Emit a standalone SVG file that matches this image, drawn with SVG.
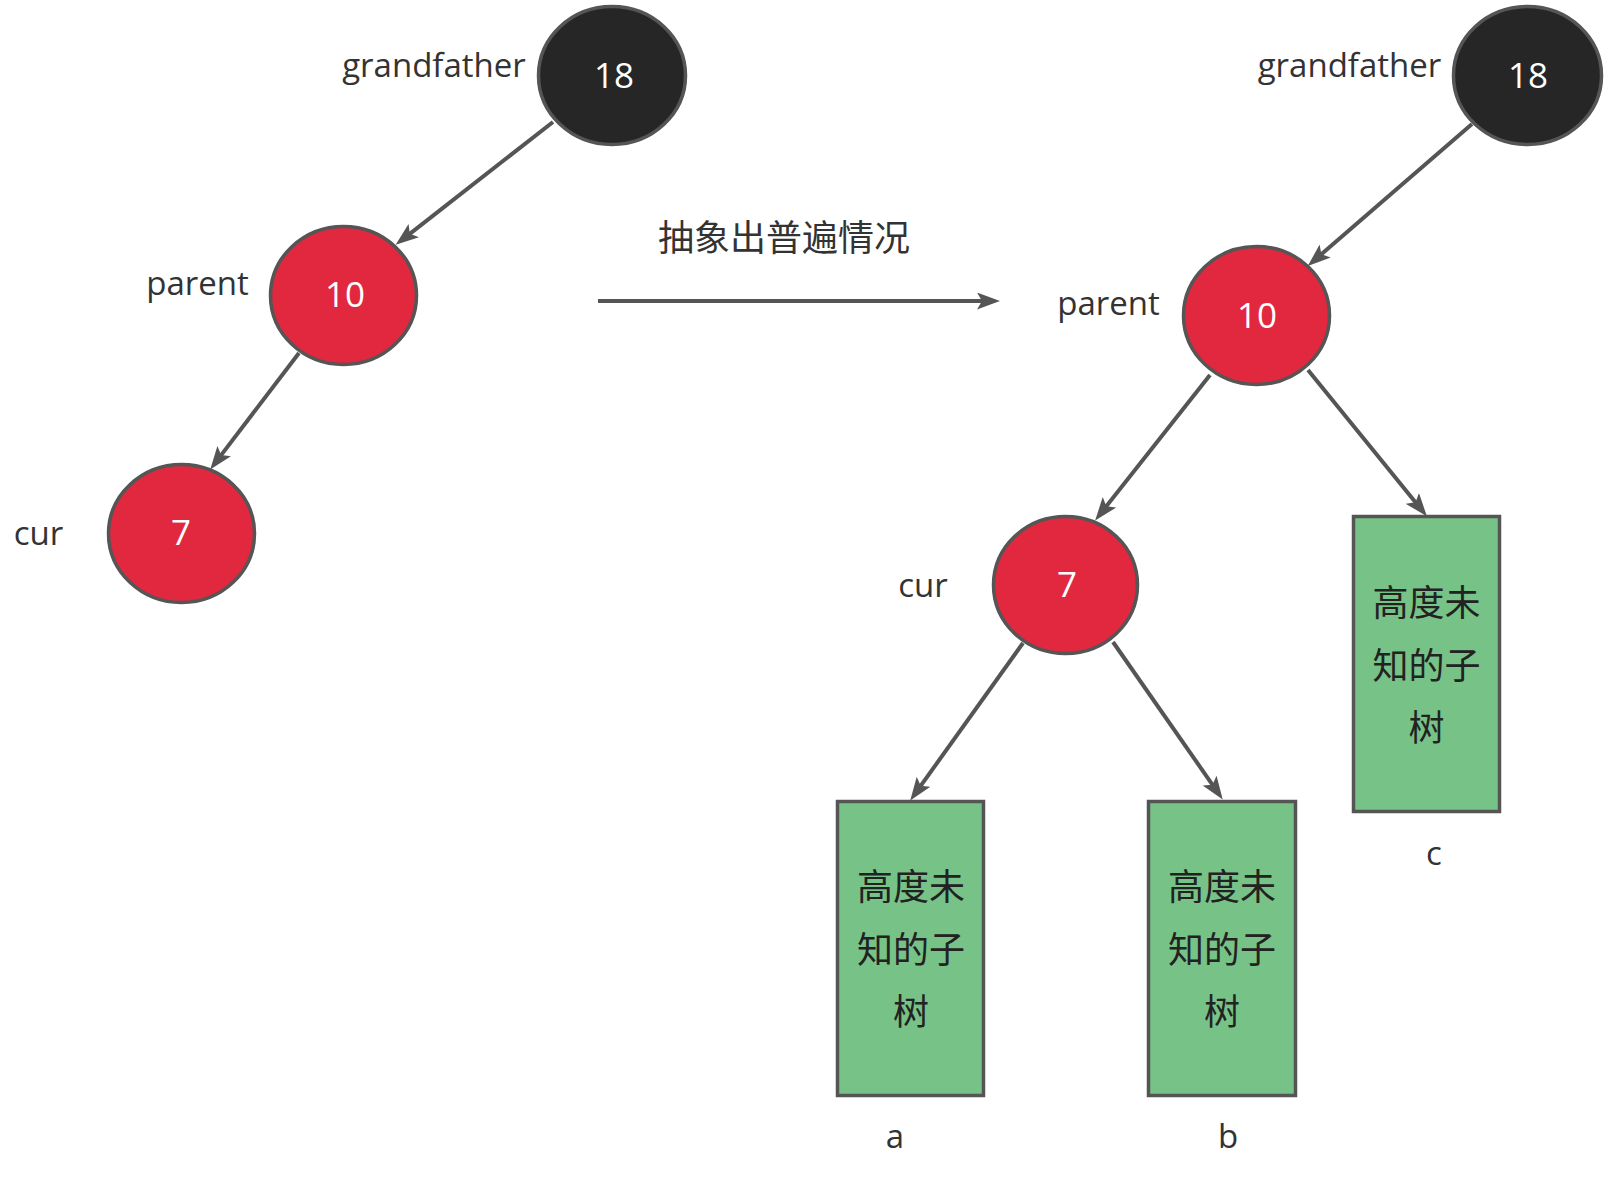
<svg xmlns="http://www.w3.org/2000/svg" width="1612" height="1181" viewBox="0 0 1612 1181">
  <defs>
    <style>
      .blk { fill: #262626; stroke: #555555; stroke-width: 3.5; }
      .red { fill: #e1283f; stroke: #555555; stroke-width: 3.5; }
      .box { fill: #77c387; stroke: #555555; stroke-width: 3.5; }
      .num { font-family: "Open Sans", "Noto Sans", sans-serif; font-size: 35px; fill: #ffffff; text-anchor: middle; }
      .lbl { font-family: "Open Sans", "Noto Sans", sans-serif; font-size: 33px; fill: #333333; text-anchor: middle; }
      .cjk { font-family: "Noto Sans CJK SC", sans-serif; font-size: 36px; fill: #222222; text-anchor: middle; }
      .edge { stroke: #555555; stroke-width: 4; fill: none; marker-end: url(#arr); }
    </style>
    <marker id="arr" viewBox="0 0 23 17" refX="10" refY="8.5" markerWidth="23" markerHeight="17" markerUnits="userSpaceOnUse" orient="auto">
      <path d="M0,0 L23,8.5 L0,17 L5,8.5 Z" fill="#555555"/>
    </marker>
  </defs>

  <rect x="0" y="0" width="1612" height="1181" fill="#ffffff"/>

  <!-- Left tree -->
  <g id="left-grandfather">
    <ellipse class="blk" cx="612" cy="75.5" rx="73.5" ry="69"/>
    <text class="num" x="614" y="88">18</text>
    <text class="lbl" x="434" y="77">grandfather</text>
  </g>
  <g id="left-parent">
    <ellipse class="red" cx="343.5" cy="295.5" rx="73" ry="69"/>
    <text class="num" x="345" y="307">10</text>
    <text class="lbl" x="197.5" y="295">parent</text>
  </g>
  <g id="left-cur">
    <ellipse class="red" cx="181.5" cy="533.5" rx="73" ry="69"/>
    <text class="num" x="181" y="545">7</text>
    <text class="lbl" x="38.5" y="545">cur</text>
  </g>

  <g id="title">
    <text class="cjk" x="784" y="251" style="fill:#333333">抽象出普遍情况</text>
  </g>

  <!-- Right tree -->
  <g id="right-grandfather">
    <ellipse class="blk" cx="1527.5" cy="75.5" rx="74" ry="69"/>
    <text class="num" x="1528" y="88">18</text>
    <text class="lbl" x="1349.5" y="77">grandfather</text>
  </g>
  <g id="right-parent">
    <ellipse class="red" cx="1256.5" cy="315.5" rx="73" ry="69"/>
    <text class="num" x="1257" y="328">10</text>
    <text class="lbl" x="1108.5" y="315">parent</text>
  </g>
  <g id="right-cur">
    <ellipse class="red" cx="1065.5" cy="585" rx="72" ry="68.5"/>
    <text class="num" x="1067" y="597">7</text>
    <text class="lbl" x="923" y="597">cur</text>
  </g>
  <g id="subtree-a">
    <rect class="box" x="837.5" y="801.5" width="146" height="294"/>
    <text class="cjk" x="911" y="900">高度未</text>
    <text class="cjk" x="911" y="963">知的子</text>
    <text class="cjk" x="911" y="1025">树</text>
    <text class="lbl" x="895" y="1148">a</text>
  </g>
  <g id="subtree-b">
    <rect class="box" x="1148.5" y="801.5" width="147" height="294"/>
    <text class="cjk" x="1222" y="900">高度未</text>
    <text class="cjk" x="1222" y="963">知的子</text>
    <text class="cjk" x="1222" y="1025">树</text>
    <text class="lbl" x="1228" y="1148">b</text>
  </g>
  <g id="subtree-c">
    <rect class="box" x="1353.5" y="516.5" width="146" height="295"/>
    <text class="cjk" x="1426.5" y="616">高度未</text>
    <text class="cjk" x="1426.5" y="679">知的子</text>
    <text class="cjk" x="1426.5" y="741">树</text>
    <text class="lbl" x="1434" y="865">c</text>
  </g>

  <!-- Connectors -->
  <g id="connectors">
    <line class="edge" x1="553" y1="122" x2="405.9" y2="236.8"/>
    <line class="edge" x1="299" y1="353" x2="218.1" y2="459.1"/>
    <line class="edge" x1="598" y1="301" x2="987" y2="301"/>
    <line class="edge" x1="1472" y1="124" x2="1317.6" y2="257.5"/>
    <line class="edge" x1="1210" y1="375" x2="1103.2" y2="510.2"/>
    <line class="edge" x1="1308" y1="370" x2="1418.7" y2="506.2"/>
    <line class="edge" x1="1023" y1="643" x2="917.8" y2="789.9"/>
    <line class="edge" x1="1113" y1="642" x2="1215.3" y2="788.8"/>
  </g>
</svg>
